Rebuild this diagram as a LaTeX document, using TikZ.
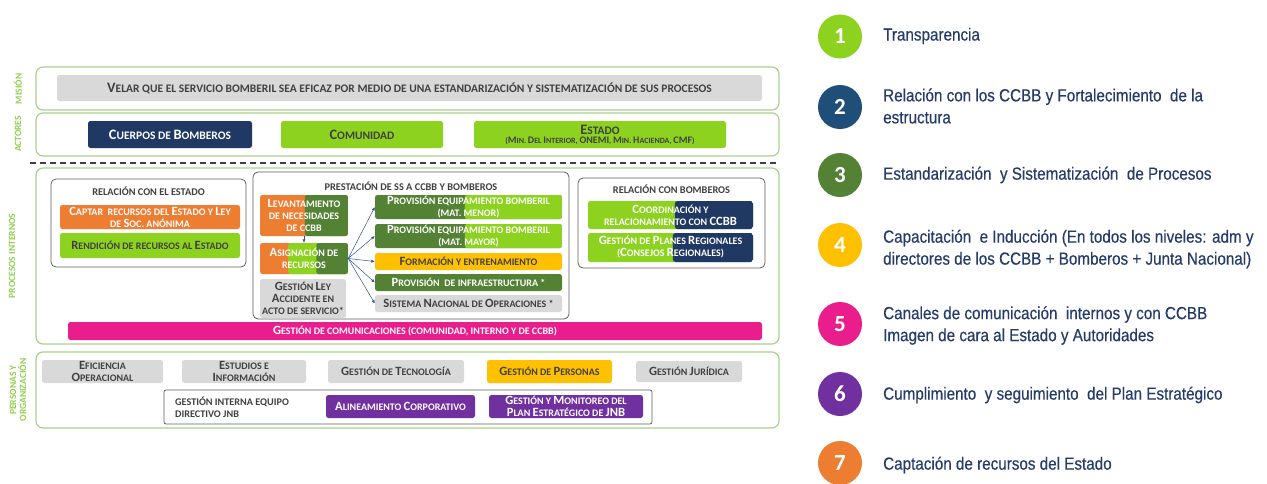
\documentclass[tikz,border=0pt]{standalone}
\usepackage{fontspec}
\setmainfont{Carlito}
\newfontfamily\legfont[FakeStretch=0.87,FakeBold=0.35]{Liberation Sans}
\usetikzlibrary{calc,arrows.meta}
\definecolor{bandgreen}{HTML}{A9D18E}
\definecolor{lgreen}{HTML}{8DD21F}
\definecolor{dgreen}{HTML}{548235}
\definecolor{navy}{HTML}{1F3864}
\definecolor{cnavy}{HTML}{1F4E79}
\definecolor{orng}{HTML}{ED7D31}
\definecolor{yell}{HTML}{FFC000}
\definecolor{gbox}{HTML}{D9D9D9}
\definecolor{pink}{HTML}{E91E8C}
\definecolor{purp}{HTML}{7030A0}
\definecolor{dtext}{HTML}{404040}
\definecolor{sidegreen}{HTML}{92D050}
\definecolor{legtext}{HTML}{243B6B}
\definecolor{arrblue}{HTML}{2F5597}
\def\bigsz{12.5}
\newcommand\Bg[1]{{\fontsize{\bigsz}{\bigsz}\selectfont #1}}
\newcommand\sctxt{\def\bigsz{12.6}\fontsize{10}{12}\selectfont\bfseries}
\newcommand\bigtxt{\def\bigsz{14.4}\fontsize{11.5}{12}\selectfont\bfseries}
\tikzset{
  band/.style={draw=bandgreen, line width=1.2pt, rounded corners=7pt, inner sep=0pt},
  grp/.style={draw=gray!75!black, line width=0.8pt, rounded corners=5pt, fill=white, inner sep=0pt},
  box/.style={rounded corners=2.5pt, inner sep=0pt, align=center, font=\sctxt, text=dtext},
  wbox/.style={box, text=white},
  ttl/.style={font=\fontsize{10.3}{12}\selectfont\bfseries, text=dtext, inner sep=0pt},
  side/.style={font=\fontsize{9.5}{10}\selectfont\bfseries, text=sidegreen, rotate=90, inner sep=0pt, align=center},
  split/.style n args={3}{path picture={
    \fill[#1] (path picture bounding box.south west) rectangle (path picture bounding box.north east);
    \fill[#2] ($(path picture bounding box.south west)!#3!(path picture bounding box.south east)$) rectangle (path picture bounding box.north east);}},
  arr/.style={draw=arrblue, line width=0.5pt, -{Latex[length=3.5pt,width=3pt]}},
  num/.style={circle, minimum size=44pt, inner sep=0pt, text=white, font=\fontsize{23}{23}\selectfont\bfseries},
  leg/.style={anchor=west, inner sep=0pt, align=left, text=legtext, font=\legfont\fontsize{17.5}{22}\selectfont}
}
\begin{document}
\begin{tikzpicture}[x=1pt,y=-1pt]
\useasboundingbox[fill=white] (0,0) rectangle (1267,483);
% ---------- Mision
\node[band, minimum width=743pt, minimum height=43pt] (misband) at (407.5,88.5) {};
\node[box, font=\bigtxt, fill=gbox, minimum width=705pt, minimum height=26pt] (mision) at (409.5,88) {\Bg{V}ELAR QUE EL SERVICIO BOMBERIL SEA EFICAZ POR MEDIO DE UNA ESTANDARIZACIÓN Y SISTEMATIZACIÓN DE SUS PROCESOS};
\node[side] (smis) at (18,89) {MISIÓN};
% ---------- Actores
\node[band, minimum width=743pt, minimum height=43pt] (actband) at (407.5,134.5) {};
\node[side] (sact) at (18,134) {ACTORES};
\node[wbox, font=\bigtxt, fill=navy, minimum width=164pt, minimum height=27pt] (cuerpos) at (170,134.5) {\Bg{C}UERPOS DE \Bg{B}OMBEROS};
\node[box, font=\bigtxt, fill=lgreen, minimum width=162pt, minimum height=27pt] (comunidad) at (362,134.5) {\Bg{C}OMUNIDAD};
\node[box, font=\bigtxt, fill=lgreen, minimum width=252pt, minimum height=27pt] (estado) at (600,134.5) {\Bg{E}STADO\\[-3pt]{\def\bigsz{10}\fontsize{8}{8}\selectfont (\Bg{M}IN. \Bg{D}EL \Bg{I}NTERIOR, \Bg{ONEMI}, \Bg{M}IN. \Bg{H}ACIENDA, \Bg{CMF})}};
% ---------- dashed separator
\coordinate (dashL) at (30,163);
\coordinate (dashR) at (779,163);
\draw[dtext, line width=1.6pt, dash pattern=on 6pt off 4pt] (dashL) -- (dashR);
% ---------- Procesos internos
\node[band, minimum width=743pt, minimum height=176pt] (procband) at (407.5,256) {};
\node[side] (sproc) at (12,256) {PROCESOS INTERNOS};
% Relacion con el Estado
\node[grp, minimum width=195pt, minimum height=88pt] (relest) at (148.5,223) {};
\node[ttl] (relestt) at (148.5,191) {RELACIÓN CON EL ESTADO};
\node[wbox, fill=orng, minimum width=180pt, minimum height=24pt] (captar) at (150,217) {\Bg{C}APTAR \ RECURSOS DEL \Bg{E}STADO Y \Bg{L}EY\\DE \Bg{S}OC. ANÓNIMA};
\node[box, fill=lgreen, minimum width=180pt, minimum height=25pt] (rendicion) at (150,245.5) {\Bg{R}ENDICIÓN DE RECURSOS AL \Bg{E}STADO};
% Prestacion
\node[grp, minimum width=316pt, minimum height=147pt] (prest) at (411,245.5) {};
\node[ttl] (prestt) at (411,186) {PRESTACIÓN DE SS A CCBB Y BOMBEROS};
\node[wbox, split={orng}{dgreen}{0.51}, minimum width=88pt, minimum height=41pt] (levant) at (304,215.5) {\Bg{L}EVANTAMIENTO\\DE NECESIDADES\\DE CCBB};
\node[wbox, minimum width=88pt, minimum height=31pt, path picture={
    \fill[orng] (path picture bounding box.south west) rectangle (path picture bounding box.north east);
    \fill[lgreen] ($(path picture bounding box.south west)!0.32!(path picture bounding box.south east)$) rectangle (path picture bounding box.north east);
    \fill[dgreen] ($(path picture bounding box.south west)!0.64!(path picture bounding box.south east)$) rectangle (path picture bounding box.north east);}] (asig) at (304,258.5) {\Bg{A}SIGNACIÓN DE\\RECURSOS};
\node[box, fill=gbox, minimum width=86pt, minimum height=39pt] (ley) at (303,298.5) {\Bg{G}ESTIÓN \Bg{L}EY\\\Bg{A}CCIDENTE EN\\ACTO DE SERVICIO*};
\node[wbox, split={dgreen}{lgreen}{0.48}, minimum width=187pt, minimum height=24pt] (menor) at (468.5,207) {\Bg{P}ROVISIÓN EQUIPAMIENTO BOMBERIL\\(MAT. MENOR)};
\node[wbox, split={dgreen}{lgreen}{0.48}, minimum width=187pt, minimum height=24pt] (mayor) at (468.5,236) {\Bg{P}ROVISIÓN EQUIPAMIENTO BOMBERIL\\(MAT. MAYOR)};
\node[box, fill=yell, minimum width=187pt, minimum height=17pt] (formacion) at (468.5,261.5) {\Bg{F}ORMACIÓN Y ENTRENAMIENTO};
\node[wbox, fill=dgreen, minimum width=187pt, minimum height=17pt] (infra) at (468.5,282.5) {\Bg{P}ROVISIÓN \ DE INFRAESTRUCTURA *};
\node[box, fill=gbox, minimum width=187pt, minimum height=17pt] (sistema) at (468.5,303.5) {\Bg{S}ISTEMA \Bg{N}ACIONAL DE \Bg{O}PERACIONES *};
\draw[arr] (levant.south) -- (asig.north);
\draw[arr] (asig.east) -- (menor.west);
\draw[arr] (asig.east) -- (mayor.west);
\draw[arr] (asig.east) -- (formacion.west);
\draw[arr] (asig.east) -- (infra.west);
\draw[arr] (asig.east) -- (sistema.west);
% Relacion con bomberos
\node[grp, minimum width=187pt, minimum height=90pt] (relbom) at (671.5,223) {};
\node[ttl] (relbomt) at (671.5,189) {RELACIÓN CON BOMBEROS};
\node[wbox, split={lgreen}{navy}{0.527}, minimum width=165pt, minimum height=28pt] (coord) at (670.5,215) {\Bg{C}OORDINACIÓN Y\\RELACIONAMIENTO CON \Bg{CCBB}};
\node[wbox, split={lgreen}{navy}{0.515}, minimum width=165pt, minimum height=29pt] (planes) at (670.5,247.5) {\Bg{G}ESTIÓN DE \Bg{P}LANES \Bg{R}EGIONALES\\(\Bg{C}ONSEJOS \Bg{R}EGIONALES)};
% Comunicaciones
\node[wbox, fill=pink, minimum width=694pt, minimum height=18pt] (comunic) at (415,331) {\Bg{G}ESTIÓN DE COMUNICACIONES (COMUNIDAD, INTERNO Y DE CCBB)};
% ---------- Personas y organizacion
\node[band, minimum width=743pt, minimum height=76pt] (persband) at (407.5,390) {};
\node[side] (spers) at (18,390) {PERSONAS Y\\ORGANIZACIÓN};
\node[box, fill=gbox, minimum width=121pt, minimum height=23pt] (eficiencia) at (102.5,371.5) {\Bg{E}FICIENCIA\\\Bg{O}PERACIONAL};
\node[box, fill=gbox, minimum width=124pt, minimum height=23pt] (estudios) at (244,371.5) {\Bg{E}STUDIOS E\\\Bg{I}NFORMACIÓN};
\node[box, fill=gbox, minimum width=136pt, minimum height=23pt] (tecno) at (396,371.5) {\Bg{G}ESTIÓN DE \Bg{T}ECNOLOGÍA};
\node[box, fill=yell, minimum width=125pt, minimum height=23pt] (personas) at (549.5,371.5) {\Bg{G}ESTIÓN DE \Bg{P}ERSONAS};
\node[box, fill=gbox, minimum width=106pt, minimum height=21pt] (juridica) at (689,371.5) {\Bg{G}ESTIÓN \Bg{J}URÍDICA};
\node[grp, rounded corners=2pt, minimum width=488pt, minimum height=34pt] (interna) at (408,407) {};
\node[ttl, font=\fontsize{10.2}{12}\selectfont\bfseries, anchor=west, align=left] (internat) at (175,407) {GESTIÓN INTERNA EQUIPO\\DIRECTIVO JNB};
\node[wbox, fill=purp, minimum width=149pt, minimum height=23pt] (alinea) at (400.5,406.5) {\Bg{A}LINEAMIENTO \Bg{C}ORPORATIVO};
\node[wbox, fill=purp, minimum width=154pt, minimum height=23pt] (monit) at (566,406.5) {\Bg{G}ESTIÓN Y \Bg{M}ONITOREO DEL\\\Bg{P}LAN \Bg{E}STRATÉGICO DE \Bg{JNB}};
% ---------- Legend
\node[num, fill=lgreen] (n1) at (840,36.5) {1};
\node[num, fill=cnavy] (n2) at (840,107) {2};
\node[num, fill=dgreen] (n3) at (840,175) {3};
\node[num, fill=yell] (n4) at (840,245) {4};
\node[num, fill=pink] (n5) at (840,324) {5};
\node[num, fill=purp] (n6) at (840,394) {6};
\node[num, fill=orng] (n7) at (840,463) {7};
\node[leg] (l1) at (883,36) {Transparencia};
\node[leg] (l2) at (883,106) {Relación con los CCBB y Fortalecimiento \ de la\\estructura};
\node[leg] (l3) at (883,175) {Estandarización \ y Sistematización \ de Procesos};
\node[leg] (l4) at (883,249) {Capacitación \ e Inducción (En todos los niveles: adm y\\directores de los CCBB + Bomberos + Junta Nacional)};
\node[leg] (l5) at (883,325.5) {Canales de comunicación \ internos y con CCBB\\Imagen de cara al Estado y Autoridades};
\node[leg] (l6) at (883,395) {Cumplimiento \ y seguimiento \ del Plan Estratégico};
\node[leg] (l7) at (883,465) {Captación de recursos del Estado};
\end{tikzpicture}
\end{document}
